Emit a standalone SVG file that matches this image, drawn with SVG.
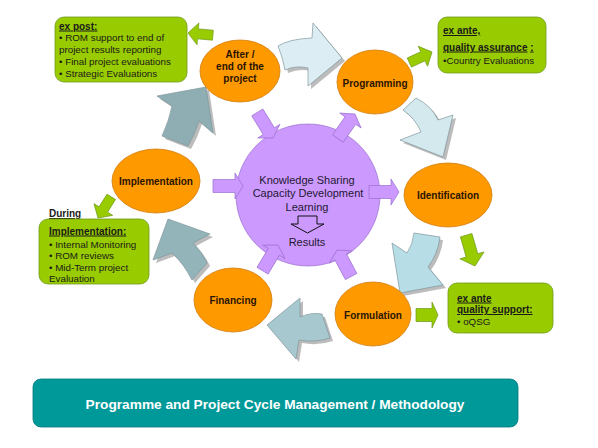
<svg xmlns="http://www.w3.org/2000/svg" xmlns:xlink="http://www.w3.org/1999/xlink" width="598" height="448" viewBox="0 0 598 448">
<style>
.node{fill:#ff9900;stroke:#cf7d10;stroke-width:0.8}
.nt{font-family:"Liberation Sans",Arial,sans-serif;font-size:10px;font-weight:bold;fill:#2a1500;text-anchor:middle}
.box{fill:#99cc00;stroke:#6f9a1c;stroke-width:0.8}
.bt{font-family:"Liberation Sans",Arial,sans-serif;font-size:9.8px;fill:#1a1a1a}
.bh{font-weight:bold;text-decoration:underline;font-size:10px}
.ct{font-family:"Liberation Sans",Arial,sans-serif;font-size:11px;fill:#1e1830;text-anchor:middle}
.pu{fill:#cc99ff;stroke:#9a6fcf;stroke-width:0.7}
.gr{fill:#99cc00;stroke:#6f9a1c;stroke-width:0.7}
.sh{fill:#8f8f8f;opacity:0.6}
.big{stroke:#7f959c;stroke-width:0.7}
</style>
<defs>
<path id="pa" d="M-30,-6.5 H-8 V-13 L0,0 L-8,13 V6.5 H-30 Z"/>
<path id="ga" d="M-25,-5 H-10 V-11 L0,0 L-10,11 V5 H-25 Z"/>
<path id="a1" d="M278,46 Q289,39 312,38 L313,23 L342,58 L308,86 L308,68 Q296,65 285,70 Q283,58 278,46 Z"/>
<path id="a2" d="M403,110 L416,98 Q432,106 438,120 L453,115 L443,157 L400,140 L421,132 Q415,118 403,110 Z"/>
<path id="a3" d="M414,233 L440,237 Q438,254 428,267 L443,285 L400,293 L392,243 L407,253 Q413,244 414,233 Z"/>
<path id="a4" d="M322,314 L330,338 Q315,343 299,340 L296,359 L267,325 L300,298 L300,317 Q311,312 322,314 Z"/>
<path id="a5" d="M207,263 L192,280 Q184,264 172,253 L153,260 L168,219 L210,234 L193,243 Q202,252 207,263 Z"/>
<path id="a6" d="M206,87 L213,133 L199,121 Q195,134 188,146 L162,136 Q169,121 172,106 L157,96 Z"/>
</defs>
<rect width="598" height="448" fill="#ffffff"/>

<g id="connectors">
  <use xlink:href="#a1" class="sh" transform="translate(3,3)"/>
  <use xlink:href="#a1" class="big" fill="#dceef3"/>
  <use xlink:href="#a2" class="sh" transform="translate(3,3)"/>
  <use xlink:href="#a2" class="big" fill="#d3e9ee"/>
  <use xlink:href="#a3" class="sh" transform="translate(3,3)"/>
  <use xlink:href="#a3" class="big" fill="#b7dde6"/>
  <use xlink:href="#a4" class="sh" transform="translate(3,3)"/>
  <use xlink:href="#a4" class="big" fill="#a7c8ce"/>
  <use xlink:href="#a5" class="sh" transform="translate(3,3)"/>
  <use xlink:href="#a5" class="big" fill="#93b5ba"/>
  <use xlink:href="#a6" class="sh" transform="translate(3,3)"/>
  <use xlink:href="#a6" class="big" fill="#8eaeb3"/>
  <use xlink:href="#ga" class="gr" transform="translate(188,33) rotate(185)"/>
  <use xlink:href="#ga" class="gr" transform="translate(432,52) rotate(-25)"/>
  <use xlink:href="#ga" class="gr" transform="translate(98,218) rotate(122)"/>
  <path class="gr" transform="translate(475,266) rotate(74)" d="M-32,-6 H-11 V-12.5 L0,0 L-11,12.5 V6 H-32 Z"/>
  <path class="gr" transform="translate(438,315)" d="M-22,-6.5 H-6 V-13 L0,0 L-6,13 V6.5 H-22 Z"/>
</g>

<g id="center">
  <ellipse cx="308" cy="195" rx="72" ry="71" class="pu"/>
  <use xlink:href="#pa" class="pu" transform="translate(243,186)"/>
  <use xlink:href="#pa" class="pu" transform="translate(399,192)"/>
  <use xlink:href="#pa" class="pu" transform="translate(273,138) rotate(58.5)"/>
  <use xlink:href="#pa" class="pu" transform="translate(355,114) rotate(-55)"/>
  <use xlink:href="#pa" class="pu" transform="translate(278,245) rotate(-59)"/>
  <use xlink:href="#pa" class="pu" transform="translate(337,250) rotate(-118)"/>
  <text class="ct" x="307" y="184">Knowledge Sharing</text>
  <text class="ct" x="308" y="197">Capacity Development</text>
  <text class="ct" x="307" y="211">Learning</text>
  <path d="M298,216 H317 V224 H324 L307.5,233 L291,224 H298 Z" fill="none" stroke="#111" stroke-width="1"/>
  <text class="ct" x="307" y="246">Results</text>
</g>

<g id="after">
  <ellipse cx="240" cy="71" rx="40" ry="31" class="node"/>
  <text class="nt" x="240" y="57.5">After /</text>
  <text class="nt" x="240" y="69.5">end of the</text>
  <text class="nt" x="240" y="81.5">project</text>
</g>
<g id="programming">
  <ellipse cx="375" cy="82" rx="38" ry="32" class="node"/>
  <text class="nt" x="375" y="86.5">Programming</text>
</g>
<g id="identification">
  <ellipse cx="448" cy="195" rx="44" ry="32" class="node"/>
  <text class="nt" x="448" y="198.5">Identification</text>
</g>
<g id="formulation">
  <ellipse cx="373" cy="314" rx="38" ry="32" class="node"/>
  <text class="nt" x="373" y="318.5">Formulation</text>
</g>
<g id="financing">
  <ellipse cx="233" cy="300" rx="39" ry="32" class="node"/>
  <text class="nt" x="233" y="303.5">Financing</text>
</g>
<g id="implementation">
  <ellipse cx="156" cy="181" rx="44" ry="32" class="node"/>
  <text class="nt" x="156" y="185">Implementation</text>
</g>

<g id="expost">
  <rect x="55" y="17" width="132" height="65" rx="9" class="box"/>
  <text class="bt" x="59" y="29.5"><tspan class="bh">ex post:</tspan></text>
  <text class="bt" x="59" y="40.5">• ROM support to end of</text>
  <text class="bt" x="59" y="52.5">project results reporting</text>
  <text class="bt" x="59" y="64.5">• Final project evaluations</text>
  <text class="bt" x="59" y="76.5">• Strategic Evaluations</text>
</g>
<g id="exante-qa">
  <rect x="438" y="17" width="108" height="56" rx="9" class="box"/>
  <text class="bt" x="443" y="34"><tspan class="bh">ex ante,</tspan></text>
  <text class="bt" x="443" y="50.5"><tspan class="bh">quality assurance</tspan> <tspan class="bh">:</tspan></text>
  <text class="bt" x="443" y="64">•Country Evaluations</text>
</g>
<g id="during">
  <text class="bt" x="49" y="217"><tspan class="bh">During </tspan></text>
  <rect x="39" y="219" width="110" height="65" rx="9" class="box"/>
  <text class="bt" x="49" y="234.5"><tspan class="bh">Implementation:</tspan></text>
  <text class="bt" x="49" y="247.5">• Internal Monitoring</text>
  <text class="bt" x="49" y="259">• ROM reviews</text>
  <text class="bt" x="49" y="271">• Mid-Term project</text>
  <text class="bt" x="49" y="282">Evaluation</text>
</g>
<g id="exante-qs">
  <rect x="448" y="283" width="105" height="50" rx="9" class="box"/>
  <text class="bt" x="457" y="301.5"><tspan class="bh">ex ante </tspan></text>
  <text class="bt" x="457" y="313"><tspan class="bh">quality support:</tspan></text>
  <text class="bt" x="457" y="325">• oQSG</text>
</g>

<g id="title">
  <rect x="33" y="379" width="485" height="48" rx="8" fill="#009999" stroke="#00797b" stroke-width="0.8"/>
  <text x="275" y="409" text-anchor="middle" font-family="'Liberation Sans',Arial,sans-serif" font-size="13.7" font-weight="bold" fill="#ffffff">Programme and Project Cycle Management / Methodology</text>
</g>
</svg>
